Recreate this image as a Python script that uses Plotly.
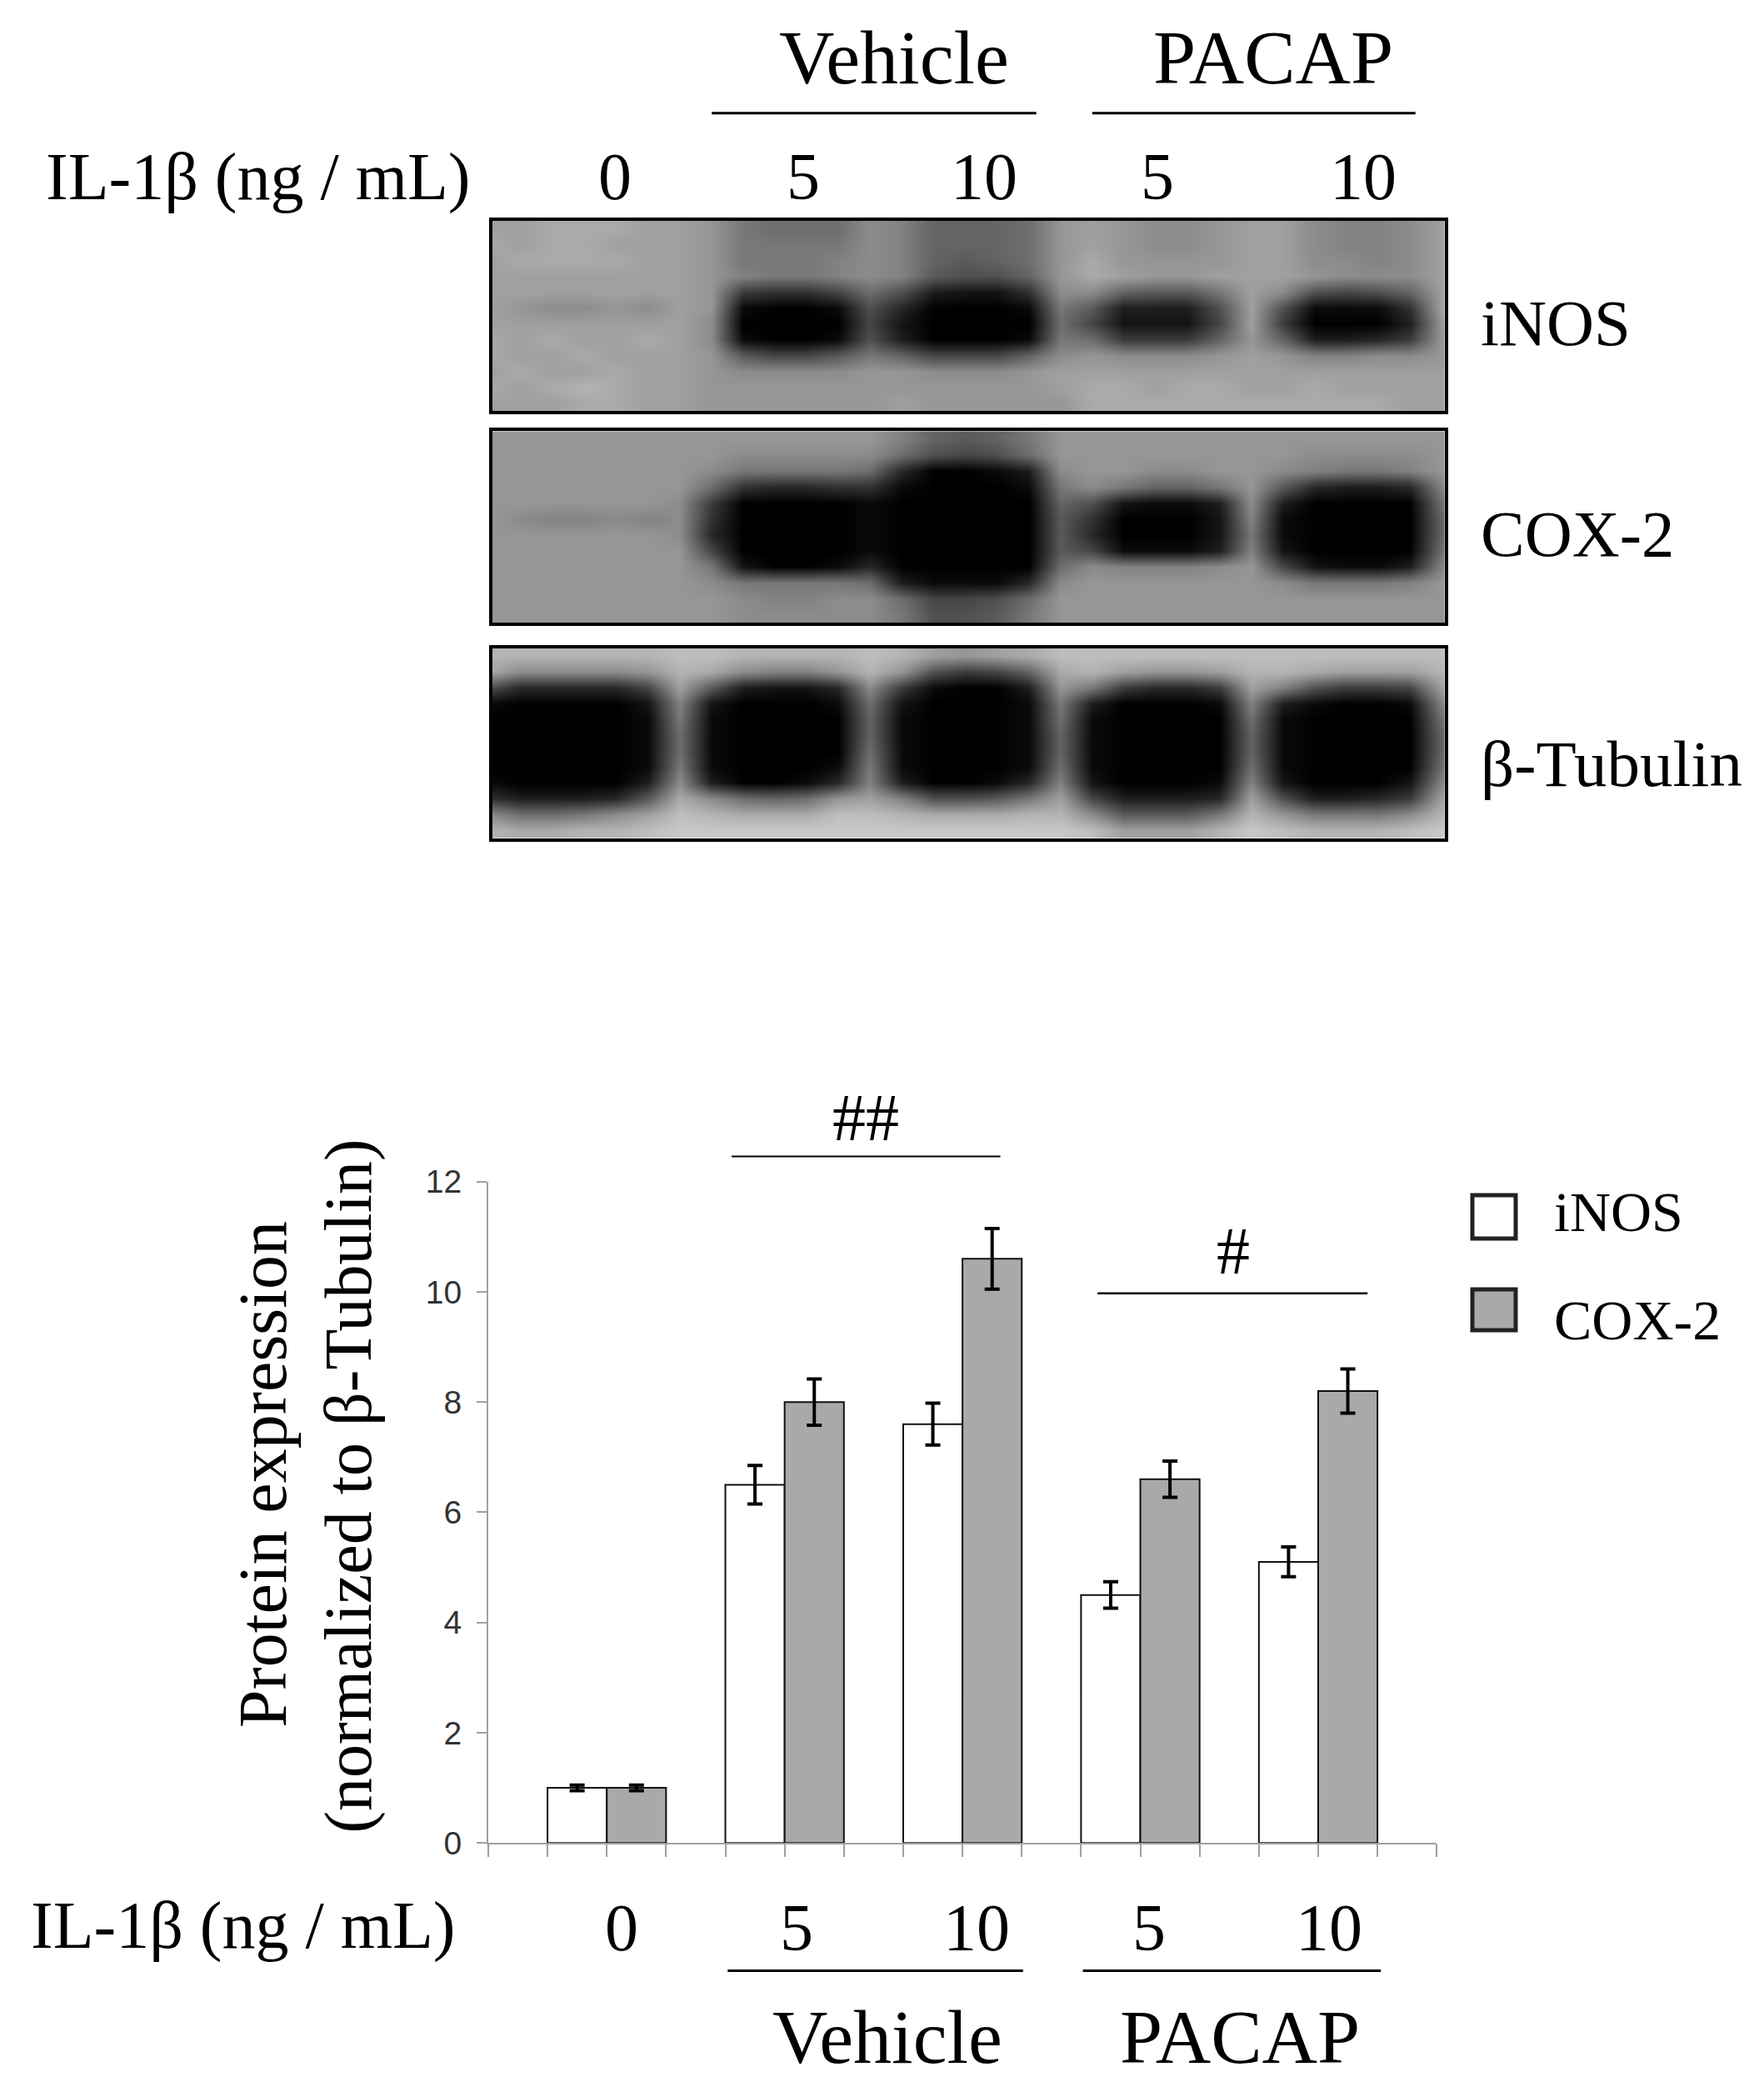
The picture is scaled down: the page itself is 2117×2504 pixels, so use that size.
import plotly.graph_objects as go

W, H = 2117, 2504
S = 2117 / 1326
PAGE = 8  # the browser's default page margin
SERIF = "Liberation Serif"

# ---------- bar chart data ----------
groups = ["0", "5", "10", "5", "10"]
inos = [1.0, 6.5, 7.6, 4.5, 5.1]
inos_err = [0.05, 0.35, 0.38, 0.24, 0.27]
cox2 = [1.0, 8.0, 10.6, 6.6, 8.2]
cox2_err = [0.05, 0.42, 0.55, 0.33, 0.40]
y_ticks = [0, 2, 4, 6, 8, 10, 12]
x_ticks = list(range(17))
inos_pos = [1.5, 4.5, 7.5, 10.5, 13.5]
cox2_pos = [2.5, 5.5, 8.5, 11.5, 14.5]

# ---------- blot densitometry, grey level / 10 ----------
blot_inos = [
    [16,16,17,17,17,16,16,15,12,11,11,11,14,13,10,10,10,11,15,16,15,14,14,15,16,16,14,13,13,14,16],
    [17,16,17,17,16,16,16,15,12,12,12,12,14,13,10,10,10,11,15,16,15,14,14,15,16,16,14,13,13,14,16],
    [16,17,17,17,17,16,16,15,12,12,12,13,14,13,10,9,10,11,15,17,15,15,15,15,16,16,14,14,13,14,16],
    [16,16,16,16,16,16,16,15,13,12,12,13,14,13,9,8,8,10,15,17,16,15,15,16,16,16,15,14,14,14,16],
    [16,16,16,16,16,16,16,15,6,5,5,7,11,8,3,2,2,5,14,14,10,9,9,12,16,14,8,7,8,10,16],
    [16,15,14,14,15,14,16,15,1,0,0,1,8,4,0,0,0,1,12,9,3,3,3,8,16,8,1,1,1,5,16],
    [16,16,16,16,16,16,16,14,0,0,0,0,7,2,0,0,0,0,11,7,2,2,2,7,16,6,0,0,0,3,15],
    [17,16,17,16,16,17,16,14,1,0,0,1,8,3,0,0,0,1,12,11,6,6,6,10,15,10,3,3,4,6,15],
    [17,16,16,17,16,16,16,15,9,7,7,9,12,10,7,7,7,10,14,15,14,14,14,15,16,15,13,13,14,14,15],
    [16,17,16,16,17,16,16,15,14,14,14,14,15,15,14,14,14,15,16,16,16,16,16,16,16,16,16,16,16,16,16],
    [17,16,17,18,17,16,16,15,15,15,15,15,15,15,15,15,15,15,16,17,17,16,17,17,16,16,17,16,16,16,16],
    [16,16,16,17,17,16,16,15,15,15,15,15,15,16,15,15,15,15,15,17,17,17,17,17,17,17,17,17,17,16,16],
]
blot_cox2 = [
    [15,15,15,15,15,15,15,15,15,15,15,15,15,13,10,9,10,12,15,15,15,15,15,15,15,15,15,15,15,15,15],
    [15,15,15,15,15,15,15,15,14,14,14,14,14,11,8,7,8,11,15,15,15,15,15,15,15,15,14,14,14,14,15],
    [15,15,15,15,15,15,15,14,12,12,12,12,11,4,0,0,1,3,14,15,15,14,14,15,15,14,13,12,12,13,15],
    [15,15,15,15,15,15,15,11,5,4,4,5,5,1,0,0,0,1,12,14,12,10,10,12,15,9,4,3,3,4,13],
    [15,15,15,15,15,15,14,6,0,0,0,0,1,0,0,0,0,0,10,8,2,1,1,3,14,3,0,0,0,0,11],
    [15,14,13,13,14,13,14,5,0,0,0,0,1,0,0,0,0,0,9,5,0,0,0,2,13,1,0,0,0,0,10],
    [15,15,15,15,15,15,14,4,0,0,0,0,1,0,0,0,0,0,9,4,0,0,0,2,12,1,0,0,0,0,10],
    [15,15,15,15,15,15,15,7,0,0,0,0,1,0,0,0,0,0,9,7,1,1,1,3,13,2,0,0,0,0,11],
    [15,15,15,15,15,15,15,12,2,0,0,1,4,0,0,0,0,0,11,14,13,13,13,14,15,7,2,1,1,3,13],
    [15,15,15,15,15,15,15,14,12,12,12,12,11,3,1,1,1,4,14,15,15,15,15,15,15,14,12,12,12,13,15],
    [15,15,15,15,15,15,15,15,14,13,13,14,14,11,7,7,8,11,15,15,15,15,15,15,15,15,15,15,15,15,15],
    [15,15,15,15,15,15,15,15,14,14,14,14,14,12,8,8,9,12,15,15,15,15,15,15,15,15,15,15,15,15,15],
]
blot_tubulin = [
    [18,18,18,18,18,18,19,19,18,18,18,18,19,18,16,15,16,17,19,19,19,19,19,19,19,19,19,19,19,19,19],
    [17,14,14,14,14,15,18,17,14,13,13,15,18,15,8,6,7,10,17,18,16,15,15,16,18,18,17,16,16,16,18],
    [8,4,4,4,4,7,16,9,3,2,2,4,14,6,1,0,0,3,15,12,6,4,4,6,16,13,8,6,6,7,16],
    [1,0,0,0,0,2,13,2,0,0,0,1,11,2,0,0,0,1,12,3,0,0,0,1,13,3,1,0,0,1,13],
    [0,0,0,0,0,1,12,1,0,0,0,0,10,1,0,0,0,1,11,1,0,0,0,0,11,1,0,0,0,0,11],
    [0,0,0,0,0,1,11,1,0,0,0,0,10,1,0,0,0,1,10,1,0,0,0,0,10,1,0,0,0,0,10],
    [0,0,0,0,0,1,11,1,0,0,0,0,11,1,0,0,0,1,10,1,0,0,0,0,10,1,0,0,0,0,10],
    [0,0,0,0,0,1,12,1,0,0,0,1,12,1,0,0,0,1,11,1,0,0,0,0,11,1,0,0,0,0,11],
    [1,0,0,0,0,3,14,3,0,0,1,4,13,3,0,0,1,4,13,2,0,0,0,1,13,2,0,0,0,2,13],
    [5,3,3,3,4,9,17,14,11,10,11,15,16,13,8,8,9,12,16,7,3,3,3,4,16,8,3,3,4,6,16],
    [14,11,11,12,14,16,19,18,17,17,17,19,19,18,17,17,17,18,18,14,9,9,9,12,18,15,12,12,12,14,18],
    [18,17,17,18,18,19,20,20,20,20,20,20,20,20,20,20,20,20,20,19,16,16,16,18,20,19,18,18,18,19,20],
]
blots = [blot_inos, blot_cox2, blot_tubulin]
blot_names = ["iNOS", "COX-2", "β-Tubulin"]
for _grid in blots:
    assert all(len(_r) == 31 for _r in _grid), [len(_r) for _r in _grid]


def px(v):
    return (v * S - PAGE) / W


def py(v):
    return 1 - (v * S - PAGE) / H


fig = go.Figure()
layout = {}

# blot panels (shrunk-view pixel bounds)
panel_x = (370, 1086)
panel_y = [(166, 309), (324, 468), (487, 630)]
for i, (grid, (top, bottom)) in enumerate(zip(blots, panel_y), start=1):
    fig.add_trace(go.Heatmap(
        z=grid, x0=-0.6, dx=1, zmin=0, zmax=25.5, zsmooth="best", showscale=False,
        colorscale=[[0, "#000000"], [1, "#ffffff"]],
        xaxis=f"x{i}", yaxis=f"y{i}", name=blot_names[i - 1], hoverinfo="skip",
    ))
    common = dict(showticklabels=False, ticks="", showgrid=False, zeroline=False,
                  showline=True, mirror=True, linecolor="#000000", linewidth=4)
    layout[f"xaxis{i}"] = dict(domain=[px(panel_x[0]), px(panel_x[1])], anchor=f"y{i}",
                               range=[-0.5, 29.5], **common)
    layout[f"yaxis{i}"] = dict(domain=[py(bottom), py(top)], anchor=f"x{i}",
                               range=[11.5, -0.5], **common)

# bar chart
bar_line = dict(color="#111111", width=2)
err = dict(type="data", color="#000000", thickness=4, width=9)
fig.add_trace(go.Bar(x=inos_pos, y=inos, width=1, name="iNOS",
                     marker=dict(color="#ffffff", line=bar_line),
                     error_y=dict(array=inos_err, **err), xaxis="x4", yaxis="y4"))
fig.add_trace(go.Bar(x=cox2_pos, y=cox2, width=1, name="COX-2",
                     marker=dict(color="#a9a9a9", line=bar_line),
                     error_y=dict(array=cox2_err, **err), xaxis="x4", yaxis="y4"))
layout["xaxis4"] = dict(domain=[px(367), px(1080)], anchor="y4", range=[0, 16],
                        tickvals=x_ticks, showticklabels=False, ticks="outside",
                        ticklen=15, tickwidth=2, tickcolor="#a0a0a0", showgrid=False,
                        zeroline=False, showline=True, linecolor="#a0a0a0", linewidth=2)
layout["yaxis4"] = dict(domain=[py(1385), py(888)], anchor="x4", range=[0, 12],
                        tickvals=y_ticks, ticks="outside", ticklen=12, tickwidth=2,
                        tickcolor="#a0a0a0", showgrid=False, zeroline=False, showline=True,
                        linecolor="#a0a0a0", linewidth=2, ticklabelstandoff=10,
                        tickfont=dict(family="Liberation Sans", size=39, color="#333333"))

# rules and legend swatches
shapes = []
for x0, x1, y, w in [(535, 779, 85, 3), (821, 1064, 85, 3), (550, 752, 869, 2),
                     (825, 1028, 972, 2.5), (547, 769, 1481, 3), (814, 1038, 1481, 3)]:
    shapes.append(dict(type="line", xref="paper", yref="paper", x0=px(x0), x1=px(x1),
                       y0=py(y), y1=py(y), line=dict(color="#000000", width=w)))
for (x0, y0, x1, y1), fill in [((1767, 1434, 1819, 1486), "#ffffff"),
                               ((1767, 1547, 1819, 1596), "#a9a9a9")]:
    shapes.append(dict(type="rect", xref="paper", yref="paper", x0=px(x0 / S), x1=px(x1 / S),
                       y0=py(y0 / S), y1=py(y1 / S), fillcolor=fill,
                       line=dict(color="#222222", width=5)))

# text
ann = []


def text(t, x, y, size, anchor="center", angle=0):
    ann.append(dict(text=t, x=px(x), y=py(y), xref="paper", yref="paper", showarrow=False,
                    xanchor=anchor, yanchor="middle", textangle=angle,
                    font=dict(family=SERIF, size=size, color="#000000")))


text("Vehicle", 672, 43, 92)
text("PACAP", 957, 43, 92)
text("IL-1β (ng / mL)", 33, 133, 80, "left")
for lab, x in zip(groups, [462, 604, 740, 870, 1025]):
    text(lab, x, 133, 80)
for name, y in zip(blot_names, [243, 401, 574]):
    text(name, 1112, y, 79, "left")
text("##", 651, 840, 80)
text("#", 927, 940, 80)
text("IL-1β (ng / mL)", 22, 1447, 80, "left")
for lab, x in zip(groups, [467, 599, 734, 864, 999]):
    text(lab, x, 1449, 80)
text("Vehicle", 667, 1531, 92)
text("PACAP", 932, 1531, 92)
text("Protein expression", 198, 1108, 82, angle=-90)
text("(normalized to β-Tubulin)", 262, 1117, 80, angle=-90)
text("iNOS", 1167, 911, 68, "left")
text("COX-2", 1167, 992, 68, "left")

fig.update_layout(width=W, height=H, margin=dict(l=0, r=0, t=0, b=0, autoexpand=False),
                  paper_bgcolor="#ffffff", plot_bgcolor="#ffffff", showlegend=False,
                  barmode="overlay", shapes=shapes, annotations=ann, **layout)
fig.write_html("out.html")
